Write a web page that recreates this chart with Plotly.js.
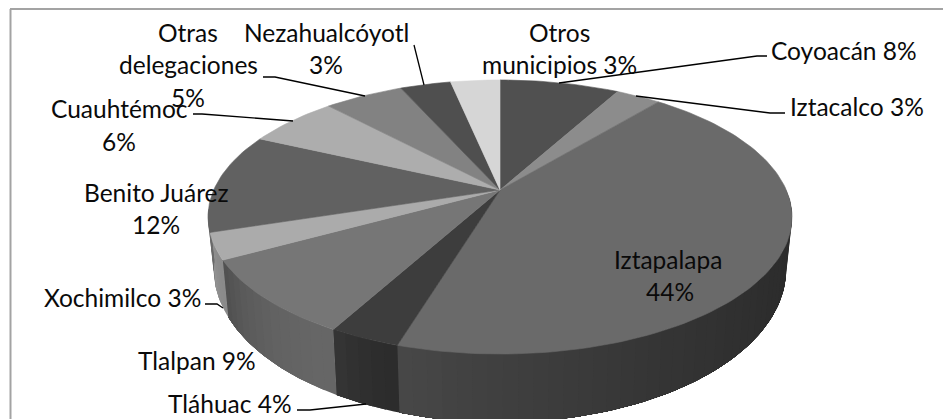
<!DOCTYPE html>
<html>
<head>
<meta charset="utf-8">
<script src="https://cdn.plot.ly/plotly-3.0.1.min.js"></script>
<style>html,body{margin:0;padding:0;background:#fff}#c{width:943px;height:419px}</style>
</head>
<body>
<div id="c"></div>
<script>
// Data
const categories = ["Coyoacán","Iztacalco","Iztapalapa","Tláhuac","Tlalpan","Xochimilco","Benito Juárez","Cuauhtémoc","Otras delegaciones","Nezahualcóyotl","Otros municipios"];
const values = [8, 3, 43.7, 3.3, 9, 3.1, 11.8, 6.1, 5.3, 3.4, 3.3];
const shownPercent = ["8%","3%","44%","4%","9%","3%","12%","6%","5%","3%","3%"];

// Styles
const topGray = [0x50,0x8c,0x6a,0x3d,0x76,0xab,0x61,0xad,0x82,0x4f,0xd6];
const wallGrayStart = [0x2b,0x2b,0x2b,0x2c,0x66,0x8a,0x6a,0x6a,0x6a,0x6a,0x6a];
const wallGrayEnd   = [0x2b,0x2b,0x48,0x36,0x4f,0x96,0x6a,0x6a,0x6a,0x6a,0x6a];

// Projection of the tilted disc onto the axes
const CX=500, CY=190, PERSP=0.197, AX=286.3, BY=131.7;
function rim(deg, wall){
  const t=deg*Math.PI/180, px=Math.sin(t), py=Math.cos(t), w=1+PERSP*py;
  const u=AX*px/w, v=BY*py/w;
  return wall ? [CX+0.98*u, 239-1.118*v] : [CX+u, CY-v];
}
const gray=g=>{g=Math.round(g);return `rgb(${g},${g},${g})`};
const total=values.reduce((a,b)=>a+b,0);
const traces=[];
function poly(pts,color,lw){
  traces.push({type:'scatter',mode:'lines',x:pts.map(p=>p[0]),y:pts.map(p=>p[1]),fill:'toself',fillcolor:color,
    line:{color:color,width:lw},hoverinfo:'skip',showlegend:false});
}
// side walls: each strip runs under the next one so that no seam shows
let acc=0;
values.forEach((val,i)=>{
  const a0=acc/total*360, a1=(acc+val)/total*360; acc+=val;
  const s=Math.max(a0,90), e=Math.min(a1,262);
  if(e<=s) return;
  const n=Math.max(1,Math.ceil((e-s)/2.5));
  for(let k=0;k<n;k++){
    const d0=s+(e-s)*k/n, t=(k+0.5)/n;
    const arc=[];
    for(let d=d0;d<e;d+=1) arc.push(d);
    arc.push(e);
    poly(arc.map(d=>rim(d)).concat(arc.slice().reverse().map(d=>rim(d,true))),
      gray(wallGrayStart[i]+(wallGrayEnd[i]-wallGrayStart[i])*t*t),0);
  }
});
// top faces
acc=0;
values.forEach((val,i)=>{
  const a0=acc/total*360, a1=(acc+val)/total*360; acc+=val;
  const pts=[[CX,CY]];
  const n=Math.ceil((a1-a0)/1.5);
  for(let k=0;k<=n;k++) pts.push(rim(a0+(a1-a0)*k/n));
  pts.push([CX,CY]);
  poly(pts,gray(topGray[i]),0.6);
});

// Label lines, placed by hand as in the picture
const labelLines=[
  ["Otras",188,32],["delegaciones",188,64],[shownPercent[8],188,97],
  [categories[9],326,32],[shownPercent[9],326,64],
  ["Otros",559,32],["municipios "+shownPercent[10],559,64],
  [categories[0]+" "+shownPercent[0],844,50],
  [categories[1]+" "+shownPercent[1],857,106],
  [categories[7],119,108],[shownPercent[7],119,141],
  [categories[6],156,192],[shownPercent[6],156,224],
  [categories[5]+" "+shownPercent[5],122,297],
  [categories[4]+" "+shownPercent[4],197,360],
  [categories[3]+" "+shownPercent[3],230,403],
  [categories[2],668,259],[shownPercent[2],670,291]
];
const annotations=labelLines.map(l=>({text:l[0],x:l[1],y:l[2],xref:'x',yref:'y',showarrow:false,xanchor:'center',yanchor:'middle',
  font:{family:'Lato, sans-serif',size:24.5,color:'#0a0a0a'}}));

const leaders=[
  "M559,83 L757,56 L767,56","M636,96 L770,113 L785,113","M424,85 L414,45",
  "M365,96 L275,77 L263,77","M293,121 L202,114 L193,114","M223,308 L217,304 L205,304",
  "M366,404 L310,410 L297,410"
];
const shapes=leaders.map(p=>({type:'path',path:p,xref:'x',yref:'y',line:{color:'#000',width:1.3}}));
shapes.push({type:'line',xref:'x',yref:'y',x0:10,y0:9,x1:943,y1:9,line:{color:'#a3a3a3',width:2}});
shapes.push({type:'line',xref:'x',yref:'y',x0:10.5,y0:9,x1:10.5,y1:419,line:{color:'#a3a3a3',width:2}});

Plotly.newPlot('c',traces,{
  width:943,height:419,margin:{l:0,r:0,t:0,b:0},paper_bgcolor:'#fff',plot_bgcolor:'#fff',showlegend:false,
  xaxis:{range:[0,943],visible:false,fixedrange:true},
  yaxis:{range:[419,0],visible:false,fixedrange:true},
  annotations:annotations,shapes:shapes
},{staticPlot:true,displayModeBar:false});
</script>
</body>
</html>
